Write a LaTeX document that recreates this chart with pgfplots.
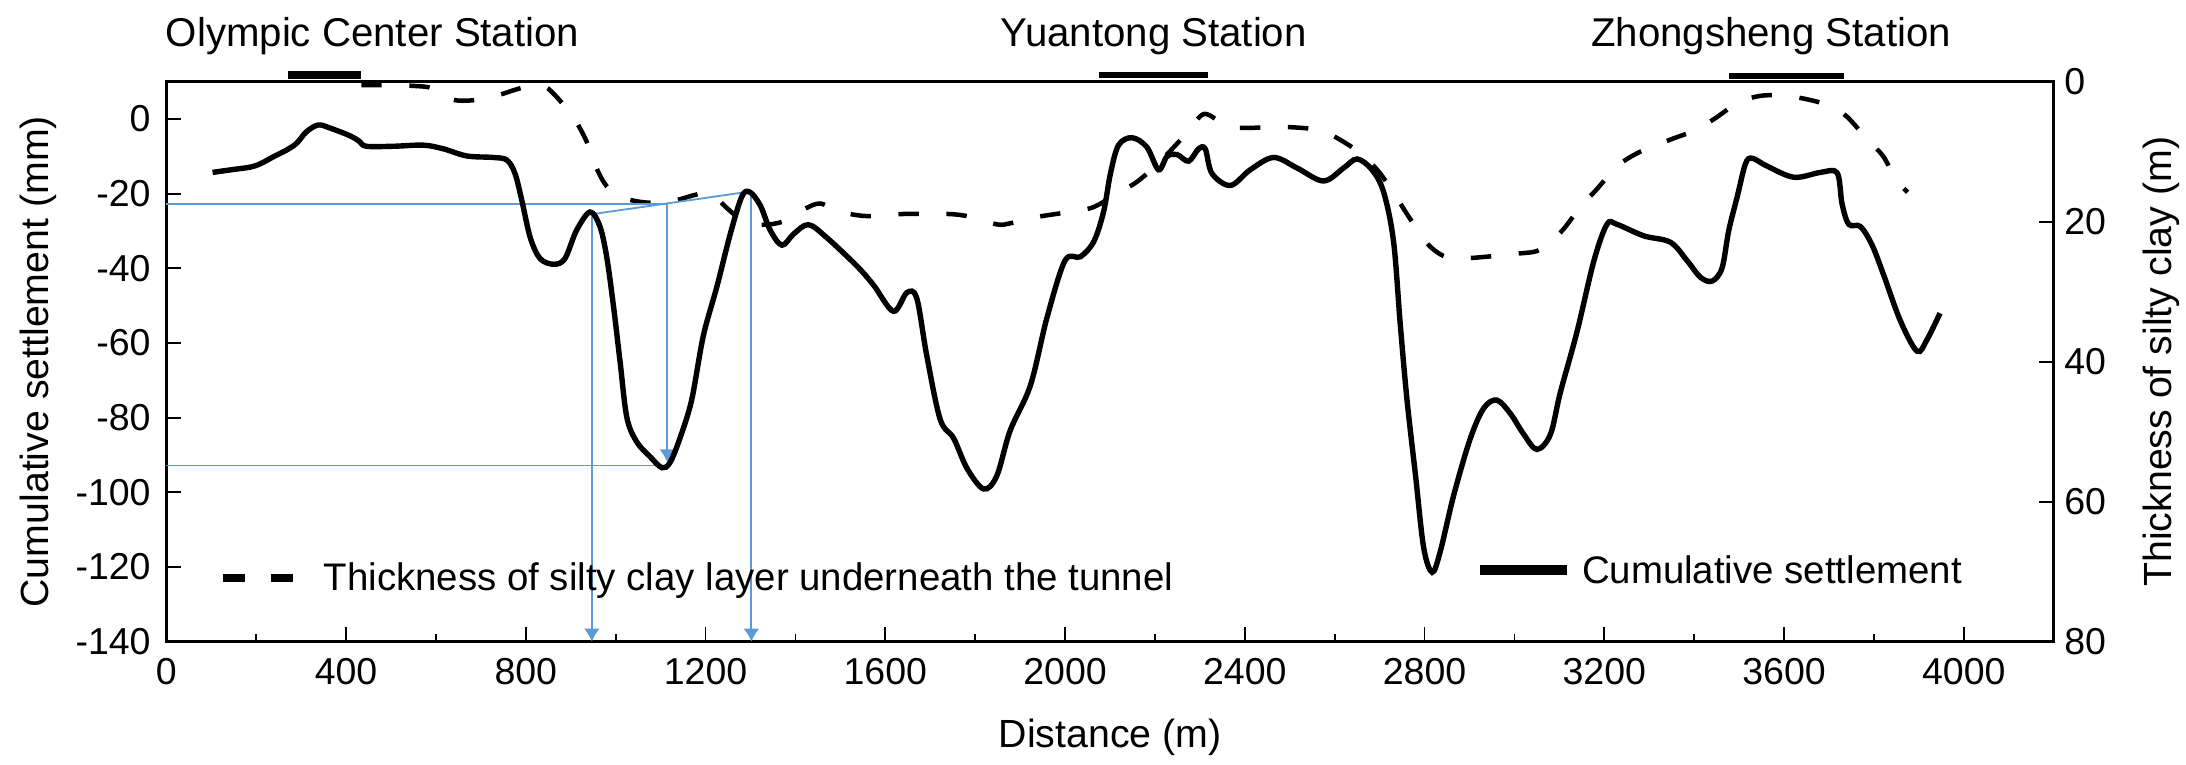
\documentclass[border=0pt]{standalone}
\usepackage{fontspec}
\setmainfont{Liberation Sans}
\usepackage{pgfplots}
\pgfplotsset{compat=1.18}
\usetikzlibrary{arrows.meta}
\definecolor{annblue}{RGB}{91,155,213}

\begin{document}
\begin{tikzpicture}
\useasboundingbox (-55.43pt,-40.77pt) rectangle (673.23pt,213.9pt);
% ---- right axis: thickness of silty clay (dashed)
\begin{axis}[
  at={(0,0)}, anchor=south west,
  width=629.13pt, height=186.67pt, scale only axis,
  xmin=0, xmax=4200, ymin=0, ymax=80, y dir=reverse,
  axis x line=none, axis y line=right,
  axis line style={-, line width=0.9pt},
  ytick={0,20,...,80},
  tick align=inside, major tick length=5pt,
  tick style={line width=0.6pt, black},
  tick label style={font=\fontsize{12.5}{14}\selectfont},
  /pgf/number format/assume math mode=true,
  ylabel={Thickness of silty clay (m)},
  label style={font=\fontsize{13.1}{15}\selectfont},
  ylabel style={at={(axis description cs:1.0572,0.5)}, anchor=center},
]
\addplot[black, line width=1.5pt, dash pattern=on 6.8pt off 9.2pt, smooth, tension=0.5] coordinates {
(434,0.5) (490,0.5) (550,0.6) (590,0.9) (620,2.2) (650,2.7) (690,2.6) (740,1.9) (790,0.9) (830,0.6) (850,1.0)
(880,3.0) (910,5.5) (935,8.5) (955,12.0) (975,14.5) (1000,16.2) (1040,17.0) (1080,17.3) (1130,17.0) (1175,16.2)
(1210,15.9) (1250,18.2) (1290,20.2) (1340,20.4) (1380,19.8) (1420,18.2) (1455,17.4) (1500,18.6) (1560,19.2)
(1640,18.9) (1740,18.9) (1790,19.3) (1850,20.4) (1880,20.2) (1940,19.3) (2000,18.7) (2060,18.0) (2110,16.2)
(2160,14.3) (2210,11.5) (2270,7.4) (2310,4.6) (2360,6.4) (2400,6.6) (2500,6.5) (2570,7.0) (2620,8.6) (2660,10.4)
(2700,13.0) (2740,16.8) (2770,19.8) (2810,23.4) (2850,25.1) (2900,25.2) (3000,24.6) (3050,24.2) (3080,22.9)
(3110,21.0) (3150,17.6) (3180,15.6) (3230,12.0) (3280,10.0) (3350,8.2) (3400,7.0) (3445,5.3) (3500,2.9)
(3550,2.0) (3600,2.0) (3650,2.5) (3700,3.4) (3740,5.0) (3790,8.6) (3820,10.6) (3850,14.0) (3875,15.8)
};
\end{axis}
% ---- left axis: cumulative settlement (solid)
\begin{axis}[
  at={(0,0)}, anchor=south west,
  width=629.13pt, height=186.67pt, scale only axis,
  xmin=0, xmax=4200, ymin=-140, ymax=10,
  xtick={0,400,...,4000}, minor x tick num=1,
  ytick={-140,-120,...,0},
  tick align=inside, xtick pos=bottom, ytick pos=left,
  major tick length=5pt, minor tick length=2.7pt,
  axis line style={line width=0.9pt},
  tick style={line width=0.6pt, black},
  tick label style={font=\fontsize{12.5}{14}\selectfont},
  xticklabel style={yshift=-2pt},
  yticklabel style={xshift=-1.7pt},
  /pgf/number format/assume math mode=true,
  /pgf/number format/1000 sep={},
  scaled ticks=false,
  xlabel={Distance (m)}, ylabel={Cumulative settlement (mm)},
  label style={font=\fontsize{13.1}{15}\selectfont},
  xlabel style={at={(axis description cs:0.5,-0.1714)}, anchor=center},
  ylabel style={at={(axis description cs:-0.0678,0.5)}, anchor=center},
  clip=false,
]
% blue annotation lines
\addplot[annblue, line width=0.6pt, forget plot] coordinates {(0,-22.7) (1115,-22.7)};
\addplot[annblue, line width=0.6pt, forget plot] coordinates {(0,-92.8) (1115,-92.8)};
\addplot[annblue, line width=0.6pt, forget plot] coordinates {(947,-25.5) (1300,-19.4)};
\addplot[annblue, line width=0.6pt, -{Latex[length=4.4pt,width=5.3pt]}, forget plot] coordinates {(947,-25.5) (947,-140)};
\addplot[annblue, line width=0.6pt, -{Latex[length=4.4pt,width=5.3pt]}, forget plot] coordinates {(1302,-19.4) (1302,-140)};
\addplot[annblue, line width=0.6pt, -{Latex[length=4.4pt,width=5.3pt]}, forget plot] coordinates {(1115,-22.7) (1115,-92.0)};
% settlement curve
\addplot[black, line width=1.8pt, smooth, tension=0.55] coordinates {
(103,-14.3) (150,-13.5) (186,-12.9) (209,-12.0) (240,-10.0) (268,-8.3) (290,-6.5) (312,-3.4) (338,-1.6)
(364,-2.4) (409,-4.5) (430,-6.0) (445,-7.3) (505,-7.3) (572,-7.0) (617,-8.0) (669,-9.9) (728,-10.3) (758,-11.0)
(776,-14.6) (791,-21.7) (810,-31.8) (832,-37.4) (862,-38.9) (887,-37.4) (913,-29.8) (943,-24.9) (965,-28.8)
(980,-36.9) (995,-50.0) (1010,-65.2) (1025,-80.0) (1047,-86.5) (1077,-90.5) (1103,-93.4) (1121,-92.0)
(1143,-85.5) (1169,-75.3) (1195,-58.1) (1225,-45.0) (1255,-30.8) (1281,-20.7) (1299,-19.6) (1322,-23.2)
(1344,-29.8) (1370,-33.8) (1396,-30.8) (1429,-28.3) (1470,-31.8) (1537,-39.4) (1574,-44.5) (1618,-51.5)
(1648,-46.5) (1670,-48.0) (1692,-63.2) (1722,-80.4) (1752,-85.5) (1782,-93.6) (1819,-99.1) (1848,-95.6)
(1878,-83.4) (1923,-71.3) (1960,-53.1) (2000,-37.9) (2034,-36.9) (2064,-32.8) (2086,-24.7) (2101,-14.6)
(2119,-7.0) (2149,-5.0) (2182,-7.5) (2208,-13.6) (2227,-10.0) (2249,-9.5) (2275,-11.3) (2297,-8.0) (2312,-8.0)
(2327,-14.6) (2368,-17.8) (2412,-13.6) (2464,-10.3) (2516,-13.1) (2575,-16.6) (2620,-13.1) (2650,-10.7)
(2683,-13.6) (2709,-19.6) (2731,-32.8) (2746,-55.1) (2761,-75.3) (2780,-95.6) (2798,-114.8) (2817,-121.4)
(2835,-115.8) (2865,-100.7) (2902,-85.5) (2932,-77.4) (2961,-75.3) (2991,-78.9) (3021,-84.5) (3050,-88.5)
(3080,-84.5) (3102,-73.3) (3139,-57.1) (3177,-37.9) (3206,-28.2) (3228,-28.2) (3288,-31.3) (3347,-33.0)
(3384,-37.9) (3414,-42.4) (3440,-43.4) (3462,-39.9) (3477,-29.8) (3496,-20.7) (3514,-12.0) (3529,-10.5)
(3562,-12.6) (3622,-15.6) (3681,-14.3) (3718,-14.4) (3729,-22.7) (3744,-28.2) (3770,-28.8) (3796,-33.8)
(3822,-41.9) (3859,-54.1) (3896,-62.2) (3918,-59.1) (3947,-52.0)
};
% station bars
\addplot[black, line width=2.5pt, forget plot] coordinates {(270,11.8) (434,11.8)};
\addplot[black, line width=2.0pt, forget plot] coordinates {(2075,11.8) (2317,11.8)};
\addplot[black, line width=2.1pt, forget plot] coordinates {(3477,11.6) (3733,11.6)};
% station names
\node[anchor=base, inner sep=0, font=\fontsize{13.4}{15}\selectfont] at (axis cs:459,19.37) {Olympic Center Station};
\node[anchor=base, inner sep=0, font=\fontsize{13.4}{15}\selectfont] at (axis cs:2197,19.37) {Yuantong Station};
\node[anchor=base, inner sep=0, font=\fontsize{13.4}{15}\selectfont] at (axis cs:3571,19.37) {Zhongsheng Station};
% legend entries
\addplot[black, line width=2.7pt, dash pattern=on 7.5pt off 8.5pt, forget plot] coordinates {(126,-123) (286,-123)};
\node[anchor=base west, inner sep=0, font=\fontsize{12.8}{15}\selectfont] at (axis cs:349,-126.4) {Thickness of silty clay layer underneath the tunnel};
\addplot[black, line width=3.2pt, forget plot] coordinates {(2924,-120.8) (3118,-120.8)};
\node[anchor=base west, inner sep=0, font=\fontsize{12.8}{15}\selectfont] at (axis cs:3149,-124.3) {Cumulative settlement};
\end{axis}
\end{tikzpicture}
\end{document}
